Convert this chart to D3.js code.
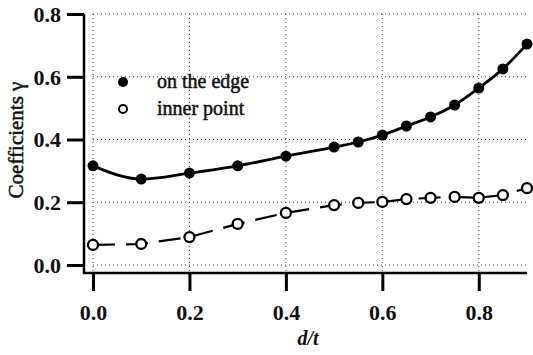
<!DOCTYPE html>
<html>
<head>
<meta charset="utf-8">
<script src="https://cdn.jsdelivr.net/npm/d3@7"></script>
<style>
  body { margin: 0; background: #fff; }
</style>
</head>
<body>
<script>
var ratio = [0, 0.1, 0.2, 0.3, 0.4, 0.5, 0.55, 0.6, 0.65, 0.7, 0.75, 0.8, 0.85, 0.9];
var onEdge = [0.316, 0.274, 0.293, 0.316, 0.347, 0.376, 0.392, 0.414, 0.443, 0.472, 0.51, 0.564, 0.625, 0.704];
var innerPoint = [0.064, 0.067, 0.089, 0.131, 0.166, 0.191, 0.198, 0.201, 0.21, 0.214, 0.217, 0.214, 0.223, 0.245];
var xTicks = [0, 0.2, 0.4, 0.6, 0.8];
var yTicks = [0, 0.2, 0.4, 0.6, 0.8];
var legendLabels = ["on the edge", "inner point"];

var width = 533, height = 355;
var serif = "'Liberation Serif'";

var svg = d3.select("body").append("svg")
  .attr("width", width)
  .attr("height", height);

var x = d3.scaleLinear().domain([0, 0.9]).range([93, 527]);
var y = d3.scaleLinear().domain([0, 0.8]).range([265, 14]);

var axisX = 84, axisY = 273;

// dotted grid
svg.append("g").selectAll("line").data(xTicks).join("line")
  .attr("x1", d => x(d)).attr("x2", d => x(d))
  .attr("y1", y(0.8)).attr("y2", axisY - 2)
  .attr("stroke", "#444").attr("stroke-width", 1)
  .attr("stroke-dasharray", "1,3");
svg.append("g").selectAll("line").data(yTicks).join("line")
  .attr("x1", x(0)).attr("x2", x(0.9))
  .attr("y1", d => y(d)).attr("y2", d => y(d))
  .attr("stroke", "#444").attr("stroke-width", 1)
  .attr("stroke-dasharray", "1,3");

// axes
var yAxis = svg.append("g")
  .attr("transform", "translate(" + axisX + ",0)")
  .call(d3.axisLeft(y).tickValues(yTicks).tickFormat(d3.format(".1f"))
    .tickSize(17).tickSizeOuter(0).tickPadding(6));
yAxis.select(".domain").remove();
yAxis.selectAll(".tick line").attr("stroke", "#000").attr("stroke-width", 3);
yAxis.selectAll(".tick text")
  .style("font-family", serif).style("font-size", "22px").style("font-weight", "bold")
  .attr("fill", "#111").attr("dy", "0.34em");

var xAxis = svg.append("g")
  .attr("transform", "translate(0," + axisY + ")")
  .call(d3.axisBottom(x).tickValues(xTicks).tickFormat(d3.format(".1f"))
    .tickSize(18).tickSizeOuter(0).tickPadding(13));
xAxis.select(".domain").remove();
xAxis.selectAll(".tick line").attr("stroke", "#000").attr("stroke-width", 3);
xAxis.selectAll(".tick text")
  .style("font-family", serif).style("font-size", "22px").style("font-weight", "bold")
  .attr("fill", "#111");

svg.append("line")
  .attr("x1", axisX).attr("x2", axisX)
  .attr("y1", y(0.8)).attr("y2", axisY + 1)
  .attr("stroke", "#000").attr("stroke-width", 2.5);
svg.append("line")
  .attr("x1", axisX - 1).attr("x2", x(0.9))
  .attr("y1", axisY).attr("y2", axisY)
  .attr("stroke", "#000").attr("stroke-width", 2.5);

// axis titles
svg.append("text")
  .attr("transform", "translate(23,140) rotate(-90)")
  .attr("text-anchor", "middle")
  .style("font-family", serif).style("font-size", "21px")
  .attr("fill", "#111").attr("stroke", "#111").attr("stroke-width", 0.5)
  .text("Coefficients γ");
svg.append("text")
  .attr("x", 308).attr("y", 345)
  .attr("text-anchor", "middle")
  .style("font-family", serif).style("font-size", "20px")
  .style("font-style", "italic").style("font-weight", "bold")
  .attr("fill", "#111")
  .text("d/t");

var line = d3.line()
  .x(d => x(d[0]))
  .y(d => y(d[1]));

var edgeData = ratio.map((r, i) => [r, onEdge[i]]);
var innerData = ratio.map((r, i) => [r, innerPoint[i]]);

svg.append("path")
  .attr("d", line.curve(d3.curveMonotoneX)(edgeData))
  .attr("fill", "none").attr("stroke", "#000").attr("stroke-width", 2.8);
svg.append("path")
  .attr("d", d3.line().x(d => x(d[0])).y(d => y(d[1]))(innerData))
  .attr("fill", "none").attr("stroke", "#000").attr("stroke-width", 2.2)
  .attr("stroke-dasharray", "22,11");

svg.append("g").selectAll("circle").data(edgeData).join("circle")
  .attr("cx", d => x(d[0])).attr("cy", d => y(d[1]))
  .attr("r", 5.5).attr("fill", "#000");
svg.append("g").selectAll("circle").data(innerData).join("circle")
  .attr("cx", d => x(d[0])).attr("cy", d => y(d[1]))
  .attr("r", 5).attr("fill", "#fff")
  .attr("stroke", "#000").attr("stroke-width", 2.3);

// legend
var legend = svg.append("g");
legend.append("circle").attr("cx", 123).attr("cy", 82).attr("r", 5).attr("fill", "#000");
legend.append("circle").attr("cx", 123).attr("cy", 109).attr("r", 4).attr("fill", "#fff")
  .attr("stroke", "#000").attr("stroke-width", 2);
legend.selectAll("text").data(legendLabels).join("text")
  .attr("x", 157).attr("y", (d, i) => 88 + i * 27)
  .style("font-family", serif).style("font-size", "20px")
  .attr("fill", "#111").attr("stroke", "#111").attr("stroke-width", 0.5)
  .text(d => d);
</script>
</body>
</html>
